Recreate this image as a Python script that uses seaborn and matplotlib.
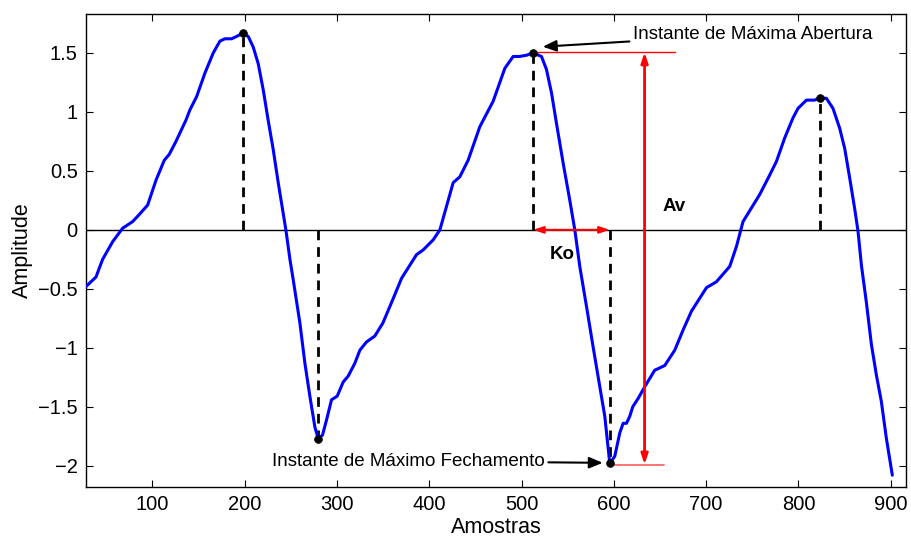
import matplotlib
matplotlib.use("Agg")
import matplotlib.pyplot as plt
import seaborn as sns
import pandas as pd

# ---- data ----
amostras = [28, 38.8, 46, 56.9, 67.7, 78.5, 85.7, 94.8, 103.8, 112.8, 118.2, 125.5, 136.3, 140.6,
            147.9, 156.9, 165.9, 173.1, 178.5, 185.8, 191.2, 197.7, 203.8, 209.2, 214.6, 220,
            225.4, 230.9, 236.3, 241.7, 244.6, 249, 252.5, 259.8, 265.2, 270.6, 276, 279.6,
            284.3, 288.7, 294.1, 300.2, 306.7, 312.1, 319.4, 324.8, 332, 341, 349.7, 360.5, 370,
            386.2, 393.4, 404.2, 411.5, 418.7, 425.9, 433.1, 442.1, 454.8, 469.2, 481.9, 490.9,
            497.8, 505.1, 512.5, 521.6, 527, 532.5, 537.9, 545.1, 552.3, 557.7, 563.1, 570.4,
            577.5, 584.8, 590.2, 595.6, 601, 606.5, 610.1, 613.7, 617.3, 620.5, 626.3, 633.5,
            644.3, 655.2, 666, 675, 684.1, 700.4, 711.2, 725.6, 732.9, 740, 758.1, 769, 776.2,
            785.2, 794.2, 799.6, 808.7, 817.7, 823.1, 830.4, 837.5, 844.8, 850.2, 855.6, 861,
            864.6, 868.3, 873.6, 879.1, 884.5, 889.9, 895.3, 901.8]
amplitude = [-0.48, -0.40, -0.25, -0.10, 0.014, 0.07, 0.13, 0.21, 0.42, 0.59, 0.64, 0.75, 0.93, 1.017,
             1.13, 1.33, 1.50, 1.60, 1.62, 1.62, 1.64, 1.667, 1.64, 1.55, 1.41, 1.19,
             0.93, 0.68, 0.40, 0.14, 0.0, -0.25, -0.42, -0.79, -1.13, -1.41, -1.67, -1.77,
             -1.74, -1.61, -1.44, -1.41, -1.29, -1.24, -1.13, -1.02, -0.95, -0.90, -0.79, -0.59, -0.41,
             -0.21, -0.17, -0.085, 0.0, 0.20, 0.40, 0.45, 0.59, 0.875, 1.09, 1.37, 1.47,
             1.47, 1.48, 1.50, 1.47, 1.36, 1.16, 0.90, 0.565, 0.25, 0.0, -0.31, -0.65,
             -0.99, -1.33, -1.58, -1.98, -1.92, -1.72, -1.64, -1.64, -1.58, -1.50, -1.43, -1.33,
             -1.19, -1.15, -1.02, -0.85, -0.69, -0.49, -0.44, -0.31, -0.14, 0.07, 0.30, 0.466, 0.58,
             0.78, 0.95, 1.03, 1.10, 1.10, 1.12, 1.115, 1.03, 0.86, 0.69, 0.44, 0.18,
             -0.01, -0.30, -0.61, -0.97, -1.23, -1.455, -1.765, -2.08]

extremos_x = [197.7, 279.6, 512.5, 595.6, 823.1]
extremos_y = [1.667, -1.77, 1.50, -1.98, 1.12]

av_x = 633.3
av_top = 1.506
av_bottom = -1.99

xticks = [100, 200, 300, 400, 500, 600, 700, 800, 900]
yticks = [-2, -1.5, -1, -0.5, 0, 0.5, 1, 1.5]
ytick_labels = ["\u22122", "\u22121.5", "\u22121", "\u22120.5", "0", "0.5", "1", "1.5"]

label_abertura = "Instante de Máxima Abertura"
label_fechamento = "Instante de Máximo Fechamento"

# ---- style ----
sns.set_style("ticks")
plt.rcParams["font.family"] = ["Liberation Sans", "DejaVu Sans"]
plt.rcParams["text.color"] = "black"
plt.rcParams["axes.labelcolor"] = "black"
plt.rcParams["xtick.color"] = "black"
plt.rcParams["ytick.color"] = "black"
plt.rcParams["xtick.direction"] = "in"
plt.rcParams["ytick.direction"] = "in"

fig = plt.figure(figsize=(9.12, 5.37), dpi=100)
ax = fig.add_axes([0.0943, 0.0931, 0.899, 0.8808])

df = pd.DataFrame({"Amostras": amostras, "Amplitude": amplitude})

ax.axhline(0, color="black", lw=1.0, zorder=1)

# dashed verticals from the extremes to zero
for xv, yv in zip(extremos_x, extremos_y):
    ax.plot([xv, xv], [0, yv], color="black", ls=(0, (3.5, 2.5)), lw=2.0, zorder=2)

sns.lineplot(data=df, x="Amostras", y="Amplitude", color="#0000ff", lw=2.2,
             sort=False, estimator=None, ax=ax, zorder=3)

sns.scatterplot(x=extremos_x, y=extremos_y, color="black", s=32, edgecolor="black",
                ax=ax, zorder=5)

# Av construction
ax.plot([extremos_x[2], 666], [av_top, av_top], color="red", lw=1.0, zorder=2)
ax.plot([extremos_x[3], 654], [av_bottom, av_bottom], color="#ff6a6a", lw=1.3, zorder=2)
ax.annotate("", xy=(av_x, av_top), xytext=(av_x, av_bottom),
            arrowprops=dict(arrowstyle="<|-|>,head_length=0.6,head_width=0.2",
                            color="red", lw=2.0, shrinkA=0, shrinkB=0), zorder=4)
ax.text(665.3, 0.197, "Av", fontsize=13.5, fontweight="bold", ha="center", va="center")

# Ko construction
ax.annotate("", xy=(extremos_x[2], 0), xytext=(extremos_x[3], 0),
            arrowprops=dict(arrowstyle="<|-|>,head_length=0.6,head_width=0.2",
                            color="red", lw=1.5, shrinkA=0, shrinkB=0), zorder=4)
ax.text(544.2, -0.205, "Ko", fontsize=13.5, fontweight="bold", ha="center", va="center")

# annotations
ax.annotate(label_abertura, xy=(523, 1.553), xytext=(620.5, 1.66),
            fontsize=13.5, ha="left", va="center",
            arrowprops=dict(arrowstyle="-|>,head_length=0.6,head_width=0.25",
                            color="black", lw=1.5, shrinkA=0, shrinkB=0))
ax.annotate(label_fechamento, xy=(588, -1.975), xytext=(525.5, -1.96),
            fontsize=13.5, ha="right", va="center",
            arrowprops=dict(arrowstyle="-|>,head_length=0.6,head_width=0.25",
                            color="black", lw=1.5, shrinkA=0, shrinkB=0))

ax.set_xlim(28, 916.5)
ax.set_ylim(-2.18, 1.83)
ax.set_xticks(xticks)
ax.set_xticklabels([str(t) for t in xticks])
ax.set_yticks(yticks)
ax.set_yticklabels(ytick_labels)
ax.tick_params(axis="both", which="both", direction="in", top=True, right=True,
               length=5, width=0.8, labelsize=14.5, colors="black", pad=6)
for s in ax.spines.values():
    s.set_visible(True)
    s.set_color("black")
    s.set_linewidth(1.0)

ax.set_xlabel("Amostras", fontsize=15.5, labelpad=2)
ax.set_ylabel("Amplitude", fontsize=15.5, labelpad=4)

fig.savefig("out.png", dpi=100)
